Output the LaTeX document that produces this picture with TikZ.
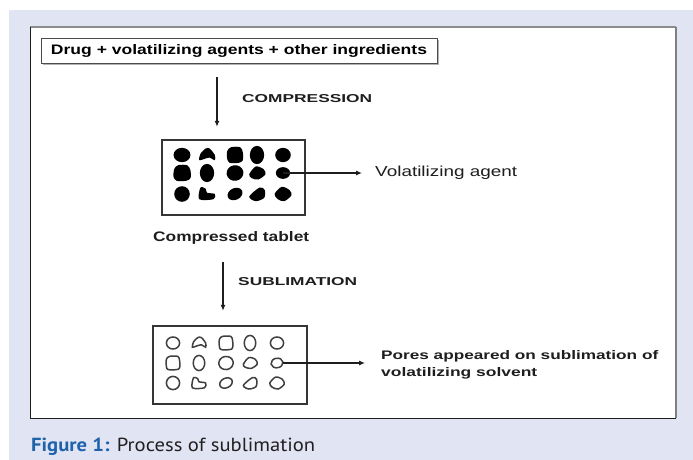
\documentclass[tikz,border=0pt]{standalone}
\usepackage{graphicx}
\usepackage{fontspec}
\setmainfont{Liberation Sans}
\newfontfamily\capfont{PT Sans}
\usetikzlibrary{arrows.meta,shadows}
\definecolor{pagebg}{HTML}{E1E4F2}
\definecolor{capblue}{HTML}{1F62AC}
\definecolor{capink}{HTML}{231F20}
\definecolor{ink}{HTML}{1E1E1E}
% stretch a piece of text to a given width and height
\newcommand\fitto[3]{\resizebox{#1}{#2}{#3}}

\begin{document}
\begin{tikzpicture}[x=1pt,y=-1pt,
  lbl/.style={anchor=base west, inner sep=0pt, text=ink},
  flow/.style={draw=ink, line width=1.1pt, -{Latex[length=6pt,width=5pt]}},
  tablet/.style={draw=ink!90, line width=2.5pt, inner sep=0pt},
  blob/.style={scale=1.3},
  hole/.style={scale=1.2},
  pore/.style={draw=ink!85, line width=1.5pt}]

\useasboundingbox (0,0) rectangle (693,460);
\fill[white] (0,0) rectangle (693,460);
\fill[pagebg] (9,10) rectangle (693,460);

% inner white panel
\fill[white] (30,27) rectangle (676,418);
\draw[gray!90, line width=1.2pt] (30,27) -- (676,27);
\draw[gray, line width=2pt] (676,27) -- (676,418);
\draw[ink, line width=1pt] (30,27) -- (30,418) -- (676,418);

% starting mixture
\node[draw=ink!80, fill=white, line width=0.8pt, minimum width=396pt,
      minimum height=25pt, inner sep=0pt,
      drop shadow={shadow xshift=2pt, shadow yshift=-2pt, opacity=1, fill=gray!60}]
  (mix) at (239,50.5) {\fitto{376pt}{10pt}{\bfseries Drug + volatilizing agents + other ingredients}};

% tablets
\node[tablet, minimum width=143pt, minimum height=75pt] (tab1) at (233.5,177.5) {};
\node[tablet, minimum width=154pt, minimum height=78pt] (tab2) at (230,365) {};

% step labels
\node[lbl] (comp) at (242,102) {\fitto{130pt}{8pt}{\bfseries COMPRESSION}};
\node[lbl] (vol) at (375,176) {\fitto{142pt}{10.5pt}{Volatilizing agent}};
\node[lbl] (ctab) at (153,241) {\fitto{156pt}{10pt}{\bfseries Compressed tablet}};
\node[lbl] (subl) at (238,285) {\fitto{119pt}{8pt}{\bfseries SUBLIMATION}};
\node[lbl] (pl1) at (381,359) {\fitto{277pt}{9pt}{\bfseries Pores appeared on sublimation of}};
\node[lbl] (pl2) at (381,376) {\fitto{156pt}{9pt}{\bfseries volatilizing solvent}};

% caption
\node[lbl] (cap) at (31,451) {\fitto{284pt}{13.5pt}{\capfont\textcolor{capblue}{\bfseries Figure 1:} \textcolor{capink}{Process of sublimation}}};

% volatilizing agent particles in the compressed tablet
\begin{scope}[shift={(182,155)},blob]\coordinate (d11) at (0,0);\fill (0,0) ellipse [x radius=6.5, y radius=5.5];\end{scope}
\begin{scope}[shift={(207,155)},blob]\coordinate (d12) at (0,0);\fill plot[smooth cycle] coordinates {(-6,4) (-5,-1) (-1,-5) (2,-5) (6,0) (6,4) (2,2) (-2,3)};\end{scope}
\begin{scope}[shift={(235,155)},blob]\coordinate (d13) at (0,0);\fill plot[smooth cycle] coordinates {(-6,-3) (-3,-6) (4,-6) (6,-2) (6,4) (3,6) (-4,6) (-6,3)};\end{scope}
\begin{scope}[shift={(257,155)},blob]\coordinate (d14) at (0,0);\fill (0,0) ellipse [x radius=5.5, y radius=7];\end{scope}
\begin{scope}[shift={(283,155)},blob]\coordinate (d15) at (0,0);\fill (0,0) ellipse [x radius=6, y radius=5.5];\end{scope}

\begin{scope}[shift={(182,173)},blob]\coordinate (d21) at (0,0);\fill plot[smooth cycle] coordinates {(-6,-3) (-3,-6) (4,-6) (6.5,-2) (6.5,4) (3,6) (-4,6) (-6.5,3)};\end{scope}
\begin{scope}[shift={(207,173)},blob]\coordinate (d22) at (0,0);\fill (0,0) ellipse [x radius=5.5, y radius=7];\end{scope}
\begin{scope}[shift={(235,173)},blob]\coordinate (d23) at (0,0);\fill (0,0) ellipse [x radius=6.5, y radius=6, rotate=10];\end{scope}
\begin{scope}[shift={(257,173)},blob]\coordinate (d24) at (0,0);\fill plot[smooth cycle] coordinates {(-6,1) (-1,-5) (5,-3) (6.5,1) (1,5) (-4,4)};\end{scope}
\begin{scope}[shift={(283,173)},blob]\coordinate (d25) at (0,0);\fill (0,0) ellipse [x radius=5.5, y radius=4.5];\end{scope}

\begin{scope}[shift={(182,194)},blob]\coordinate (d31) at (0,0);\fill (0,0) ellipse [x radius=6, y radius=6];\end{scope}
\begin{scope}[shift={(207,194)},blob]\coordinate (d32) at (0,0);\fill plot[smooth cycle] coordinates {(-6,4) (-5,-5) (-1,-4) (0,-1) (6,0) (5,4)};\end{scope}
\begin{scope}[shift={(235,194)},blob]\coordinate (d33) at (0,0);\fill (0,0) ellipse [x radius=6, y radius=4.5, rotate=25];\end{scope}
\begin{scope}[shift={(257,194)},blob]\coordinate (d34) at (0,0);\fill plot[smooth cycle] coordinates {(-6,2) (2,-5) (6,-3) (5.5,3) (-1,5.5)};\end{scope}
\begin{scope}[shift={(283,194)},blob]\coordinate (d35) at (0,0);\fill plot[smooth cycle] coordinates {(-6.5,0) (-1,-5.5) (5,-3) (6.5,1) (1,5.5) (-4,4)};\end{scope}

% pores left behind after sublimation
\begin{scope}[pore]
\begin{scope}[shift={(173,343)},hole]\coordinate (p11) at (0,0);\draw (0,0) ellipse [x radius=5.5, y radius=5];\end{scope}
\begin{scope}[shift={(199,343)},hole]\coordinate (p12) at (0,0);\draw plot[smooth cycle] coordinates {(-5.5,3.5) (-4.5,-1) (-1,-4.5) (2,-4.5) (5.5,0) (5.5,3.5) (2,1.5) (-2,2.5)};\end{scope}
\begin{scope}[shift={(226,343)},hole]\coordinate (p13) at (0,0);\draw plot[smooth cycle] coordinates {(-5.5,-3) (-3,-5.5) (4,-5.5) (5.5,-2) (5.5,4) (3,5.5) (-4,5.5) (-5.5,3)};\end{scope}
\begin{scope}[shift={(250,343)},hole]\coordinate (p14) at (0,0);\draw (0,0) ellipse [x radius=4.8, y radius=6.3];\end{scope}
\begin{scope}[shift={(277,343)},hole]\coordinate (p15) at (0,0);\draw (0,0) ellipse [x radius=5.5, y radius=5];\end{scope}

\begin{scope}[shift={(173,363)},hole]\coordinate (p21) at (0,0);\draw plot[smooth cycle] coordinates {(-5.5,-3) (-3,-5.5) (4,-5.5) (5.5,-2) (5.5,4) (3,5.5) (-4,5.5) (-5.5,3)};\end{scope}
\begin{scope}[shift={(199,363)},hole]\coordinate (p22) at (0,0);\draw (0,0) ellipse [x radius=4.8, y radius=6.3];\end{scope}
\begin{scope}[shift={(226,363)},hole]\coordinate (p23) at (0,0);\draw (0,0) ellipse [x radius=6, y radius=5.5, rotate=10];\end{scope}
\begin{scope}[shift={(250,363)},hole]\coordinate (p24) at (0,0);\draw plot[smooth cycle] coordinates {(-5.5,1) (-1,-4.5) (4.5,-3) (6,1) (1,4.5) (-4,3.5)};\end{scope}
\begin{scope}[shift={(277,363)},hole]\coordinate (p25) at (0,0);\draw (0,0) ellipse [x radius=5, y radius=4, rotate=10];\end{scope}

\begin{scope}[shift={(173,383)},hole]\coordinate (p31) at (0,0);\draw (0,0) ellipse [x radius=5.5, y radius=5.5];\end{scope}
\begin{scope}[shift={(199,383)},hole]\coordinate (p32) at (0,0);\draw plot[smooth cycle] coordinates {(-5.5,4) (-4.5,-4.5) (-1,-3.5) (0,-1) (5.5,0) (4.5,4)};\end{scope}
\begin{scope}[shift={(226,383)},hole]\coordinate (p33) at (0,0);\draw (0,0) ellipse [x radius=5.5, y radius=4, rotate=25];\end{scope}
\begin{scope}[shift={(250,383)},hole]\coordinate (p34) at (0,0);\draw plot[smooth cycle] coordinates {(-5.5,2) (2,-4.5) (5.5,-3) (5,3) (-1,5)};\end{scope}
\begin{scope}[shift={(277,383)},hole]\coordinate (p35) at (0,0);\draw plot[smooth cycle] coordinates {(-6,0) (-1,-5) (4.5,-3) (6,1) (1,5) (-4,3.5)};\end{scope}
\end{scope}

% process arrows
\coordinate (a1top) at (217,77);
\coordinate (a2top) at (223,262);
\draw[flow, shorten >=12pt] (a1top) -- (tab1.north -| a1top);
\draw[flow, shorten >=14pt] (a2top) -- (tab2.north -| a2top);

% pointer arrows to the labels
\coordinate (voltip) at (362,173);
\coordinate (poretip) at (365,363);
\draw[flow] (d25) -- (voltip);
\draw[flow] ([xshift=6pt]p25) -- (poretip);

\end{tikzpicture}
\end{document}
